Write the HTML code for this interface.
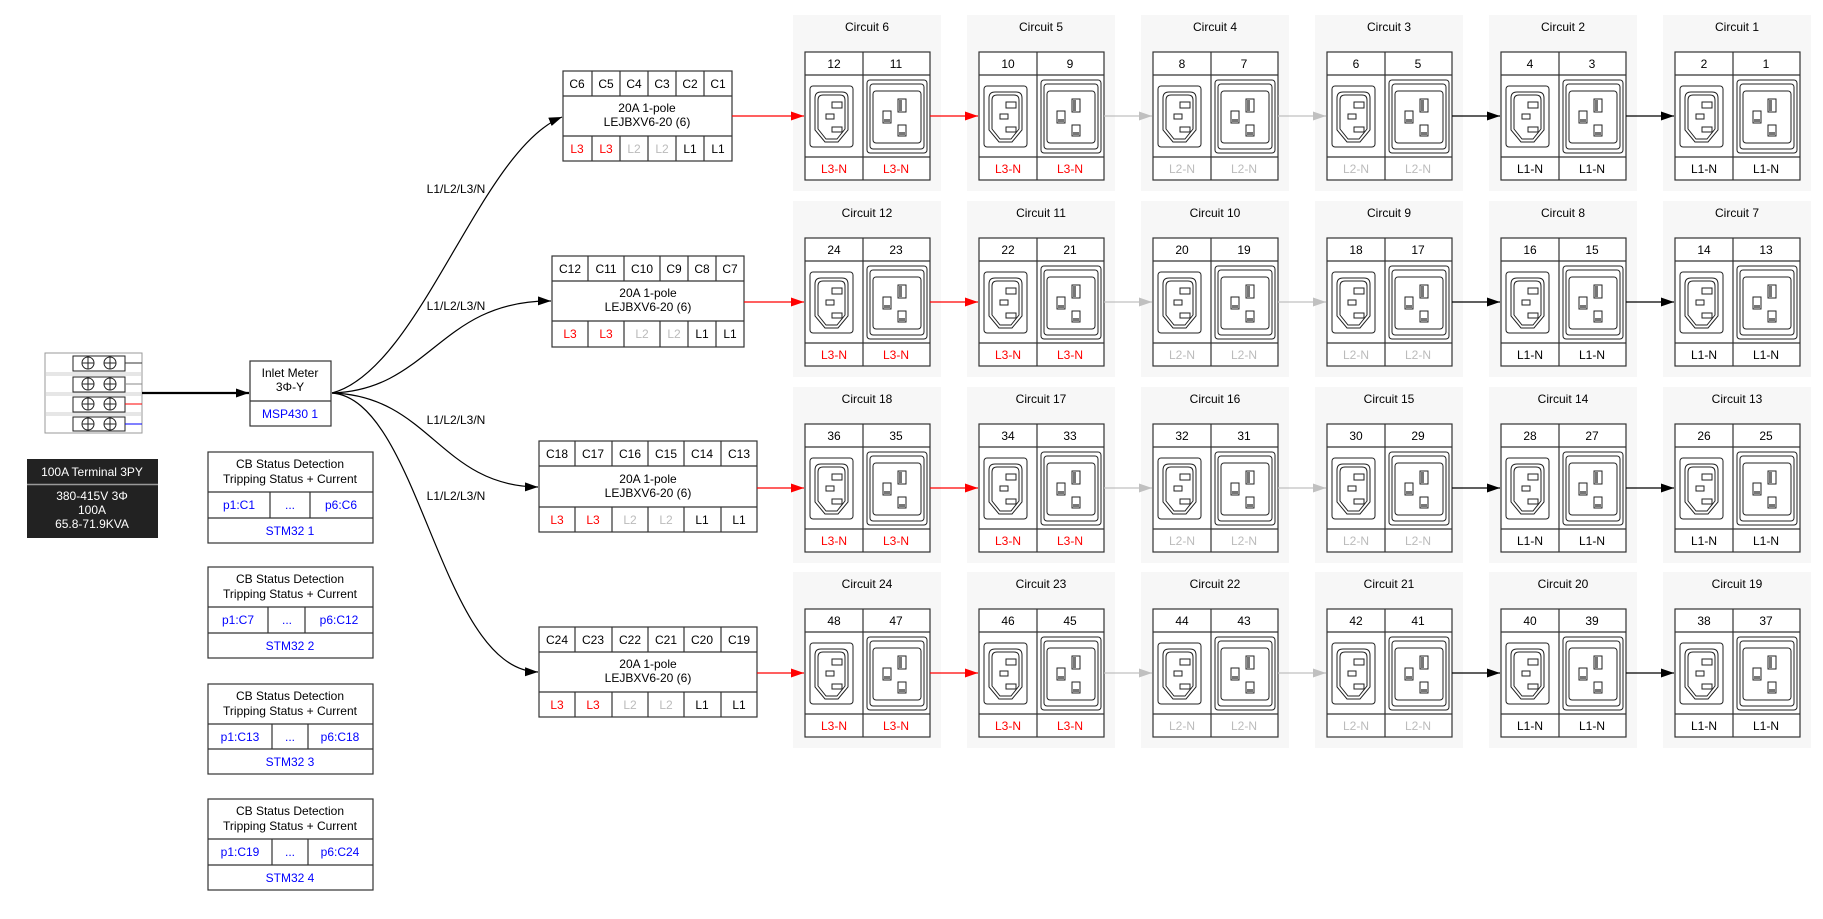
<!DOCTYPE html>
<html><head><meta charset="utf-8"><style>html,body{margin:0;padding:0;background:#fff}svg{display:block}text{font-family:"Liberation Sans",Arial,sans-serif;font-size:12px;fill:#000}</style></head><body>
<svg width="1823" height="919" viewBox="0 0 1823 919" xmlns="http://www.w3.org/2000/svg">
<defs>
<marker id="ak" markerWidth="14" markerHeight="10" refX="13" refY="4.5" orient="auto" markerUnits="userSpaceOnUse"><path d="M0,0 L13,4.5 L0,9z" fill="#000"/></marker>
<marker id="ar" markerWidth="14" markerHeight="10" refX="13" refY="4.5" orient="auto" markerUnits="userSpaceOnUse"><path d="M0,0 L13,4.5 L0,9z" fill="#f00"/></marker>
<marker id="ag" markerWidth="14" markerHeight="10" refX="13" refY="4.5" orient="auto" markerUnits="userSpaceOnUse"><path d="M0,0 L13,4.5 L0,9z" fill="#c0c0c0"/></marker>
<g id="clu">
<rect x="0" y="0" width="148" height="176" fill="#f7f7f7"/>
<rect x="12" y="37" width="125" height="128" fill="#fff" stroke="#333" stroke-width="1.2"/>
<path d="M12,60H137M12,142H137M70,37V165" stroke="#333" stroke-width="1.2" fill="none"/>
<rect x="17" y="71" width="43" height="61" rx="3" fill="none" stroke="#222"/>
<path d="M28,77H49Q55,77 55,83V115L45,127H32L22,115V83Q22,77 28,77Z" fill="none" stroke="#222"/>
<path d="M30,80H47Q52,80 52,85V114L44,124H33L25,114V85Q25,80 30,80Z" fill="none" stroke="#222"/>
<rect x="39" y="87" width="10" height="6" fill="none" stroke="#222"/>
<rect x="33" y="99" width="8" height="5" fill="none" stroke="#222"/>
<rect x="39" y="112" width="10" height="5" fill="none" stroke="#222"/>
<rect x="74" y="65" width="60" height="73" rx="3" fill="none" stroke="#222"/>
<rect x="77" y="69" width="54" height="65" rx="3" fill="none" stroke="#222"/>
<rect x="80" y="76" width="48" height="52" rx="3" fill="none" stroke="#222"/>
<rect x="105" y="84" width="8" height="13" fill="#fff" stroke="#222"/><rect x="106" y="85" width="3" height="11" fill="#777"/>
<rect x="105" y="110" width="8" height="11" fill="#fff" stroke="#222"/><rect x="106" y="117" width="6" height="3" fill="#777"/>
<rect x="90" y="96" width="8" height="12" fill="#fff" stroke="#222"/><rect x="91" y="104" width="6" height="3" fill="#777"/>
</g>
</defs>

<rect x="45" y="353" width="97" height="80" fill="#fff" stroke="#999"/>
<path d="M45,373H142M45,375H142M45,393H142M45,395H142M45,413H142M45,415H142" stroke="#ccc"/>
<g fill="#fff" stroke="#222">
<rect x="73" y="356" width="52" height="15"/><rect x="73" y="377" width="52" height="15"/><rect x="73" y="397" width="52" height="15"/><rect x="73" y="417" width="52" height="14"/>
<circle cx="88" cy="363" r="6"/><circle cx="110" cy="363" r="6"/><circle cx="88" cy="384" r="6"/><circle cx="110" cy="384" r="6"/>
<circle cx="88" cy="404" r="6"/><circle cx="110" cy="404" r="6"/><circle cx="88" cy="424" r="6"/><circle cx="110" cy="424" r="6"/>
</g>
<path d="M82,363H94M88,357V369M104,363H116M110,357V369M82,384H94M88,378V390M104,384H116M110,378V390M82,404H94M88,398V410M104,404H116M110,398V410M82,424H94M88,418V430M104,424H116M110,418V430" stroke="#222"/>
<path d="M125,363H142" stroke="#333"/><path d="M125,384H142" stroke="#888"/><path d="M125,404H142" stroke="#f00"/><path d="M125,424H142" stroke="#00f"/>
<path d="M142,393H249" stroke="#000" stroke-width="2.2" marker-end="url(#ak)"/>

<rect x="27" y="459" width="131" height="79" fill="#222"/>
<path d="M27,484.5H158" stroke="#999" stroke-width="1.5"/>
<text x="92" y="476" text-anchor="middle" style="fill:#fff">100A Terminal 3PY</text>
<text x="92" y="500" text-anchor="middle" style="fill:#fff">380-415V 3Φ</text>
<text x="92" y="514" text-anchor="middle" style="fill:#fff">100A</text>
<text x="92" y="528" text-anchor="middle" style="fill:#fff">65.8-71.9KVA</text>

<rect x="250" y="361" width="81" height="65" fill="#fff" stroke="#333" stroke-width="1.2"/>
<path d="M250,401H331" stroke="#333" stroke-width="1.2"/>
<text x="290" y="377" text-anchor="middle">Inlet Meter</text>
<text x="290" y="391" text-anchor="middle">3Φ-Y</text>
<text x="290" y="418" text-anchor="middle" style="fill:#00f">MSP430 1</text>

<g fill="#fff" stroke="#333" stroke-width="1.2">
<rect x="208" y="452" width="165" height="91"/><path d="M208,492H373M208,518H373M270,492V518M310,492V518"/>
<rect x="208" y="567" width="165" height="91"/><path d="M208,607H373M208,633H373M268,607V633M305,607V633"/>
<rect x="208" y="684" width="165" height="90"/><path d="M208,724H373M208,749H373M272,724V749M308,724V749"/>
<rect x="208" y="799" width="165" height="91"/><path d="M208,839H373M208,865H373M272,839V865M308,839V865"/>
</g>
<text x="290" y="468" text-anchor="middle">CB Status Detection</text><text x="290" y="483" text-anchor="middle">Tripping Status + Current</text>
<text x="239" y="509" text-anchor="middle" style="fill:#00f">p1:C1</text><text x="290" y="509" text-anchor="middle" style="fill:#00f">...</text><text x="341" y="509" text-anchor="middle" style="fill:#00f">p6:C6</text>
<text x="290" y="535" text-anchor="middle" style="fill:#00f">STM32 1</text>
<text x="290" y="583" text-anchor="middle">CB Status Detection</text><text x="290" y="598" text-anchor="middle">Tripping Status + Current</text>
<text x="238" y="624" text-anchor="middle" style="fill:#00f">p1:C7</text><text x="287" y="624" text-anchor="middle" style="fill:#00f">...</text><text x="339" y="624" text-anchor="middle" style="fill:#00f">p6:C12</text>
<text x="290" y="650" text-anchor="middle" style="fill:#00f">STM32 2</text>
<text x="290" y="700" text-anchor="middle">CB Status Detection</text><text x="290" y="715" text-anchor="middle">Tripping Status + Current</text>
<text x="240" y="741" text-anchor="middle" style="fill:#00f">p1:C13</text><text x="290" y="741" text-anchor="middle" style="fill:#00f">...</text><text x="340" y="741" text-anchor="middle" style="fill:#00f">p6:C18</text>
<text x="290" y="766" text-anchor="middle" style="fill:#00f">STM32 3</text>
<text x="290" y="815" text-anchor="middle">CB Status Detection</text><text x="290" y="830" text-anchor="middle">Tripping Status + Current</text>
<text x="240" y="856" text-anchor="middle" style="fill:#00f">p1:C19</text><text x="290" y="856" text-anchor="middle" style="fill:#00f">...</text><text x="340" y="856" text-anchor="middle" style="fill:#00f">p6:C24</text>
<text x="290" y="882" text-anchor="middle" style="fill:#00f">STM32 4</text>

<g fill="none" stroke="#000" stroke-width="1.2">
<path d="M332,393 C420,370 480,150 562,117" marker-end="url(#ak)"/>
<path d="M332,393 C430,390 440,300 551,301" marker-end="url(#ak)"/>
<path d="M332,393 C430,396 440,486 538,487" marker-end="url(#ak)"/>
<path d="M332,393 C420,400 440,670 538,672" marker-end="url(#ak)"/>
</g>
<text x="456" y="193" text-anchor="middle">L1/L2/L3/N</text>
<text x="456" y="310" text-anchor="middle">L1/L2/L3/N</text>
<text x="456" y="424" text-anchor="middle">L1/L2/L3/N</text>
<text x="456" y="500" text-anchor="middle">L1/L2/L3/N</text>

<g fill="#fff" stroke="#333" stroke-width="1.2">
<rect x="563" y="71" width="169" height="90"/><path d="M563,96H732M563,136H732M592,71V96M620,71V96M648,71V96M676,71V96M704,71V96M592,136V161M620,136V161M648,136V161M676,136V161M704,136V161"/>
<rect x="552" y="256" width="192" height="91"/><path d="M552,281H744M552,321H744M588,256V281M624,256V281M660,256V281M688,256V281M716,256V281M588,321V347M624,321V347M660,321V347M688,321V347M716,321V347"/>
<rect x="539" y="441" width="218" height="91"/><path d="M539,466H757M539,507H757M575,441V466M612,441V466M648,441V466M684,441V466M721,441V466M575,507V532M612,507V532M648,507V532M684,507V532M721,507V532"/>
<rect x="539" y="627" width="218" height="90"/><path d="M539,652H757M539,692H757M575,627V652M612,627V652M648,627V652M684,627V652M721,627V652M575,692V717M612,692V717M648,692V717M684,692V717M721,692V717"/>
</g>
<g text-anchor="middle">
<text x="577" y="88">C6</text><text x="606" y="88">C5</text><text x="634" y="88">C4</text><text x="662" y="88">C3</text><text x="690" y="88">C2</text><text x="718" y="88">C1</text>
<text x="647" y="112">20A 1-pole</text><text x="647" y="126">LEJBXV6-20 (6)</text>
<text x="577" y="153" style="fill:#f00">L3</text><text x="606" y="153" style="fill:#f00">L3</text><text x="634" y="153" style="fill:#bbb">L2</text><text x="662" y="153" style="fill:#bbb">L2</text><text x="690" y="153">L1</text><text x="718" y="153">L1</text>

<text x="570" y="273">C12</text><text x="606" y="273">C11</text><text x="642" y="273">C10</text><text x="674" y="273">C9</text><text x="702" y="273">C8</text><text x="730" y="273">C7</text>
<text x="648" y="297">20A 1-pole</text><text x="648" y="311">LEJBXV6-20 (6)</text>
<text x="570" y="338" style="fill:#f00">L3</text><text x="606" y="338" style="fill:#f00">L3</text><text x="642" y="338" style="fill:#bbb">L2</text><text x="674" y="338" style="fill:#bbb">L2</text><text x="702" y="338">L1</text><text x="730" y="338">L1</text>

<text x="557" y="458">C18</text><text x="593" y="458">C17</text><text x="630" y="458">C16</text><text x="666" y="458">C15</text><text x="702" y="458">C14</text><text x="739" y="458">C13</text>
<text x="648" y="483">20A 1-pole</text><text x="648" y="497">LEJBXV6-20 (6)</text>
<text x="557" y="524" style="fill:#f00">L3</text><text x="593" y="524" style="fill:#f00">L3</text><text x="630" y="524" style="fill:#bbb">L2</text><text x="666" y="524" style="fill:#bbb">L2</text><text x="702" y="524">L1</text><text x="739" y="524">L1</text>

<text x="557" y="644">C24</text><text x="593" y="644">C23</text><text x="630" y="644">C22</text><text x="666" y="644">C21</text><text x="702" y="644">C20</text><text x="739" y="644">C19</text>
<text x="648" y="668">20A 1-pole</text><text x="648" y="682">LEJBXV6-20 (6)</text>
<text x="557" y="709" style="fill:#f00">L3</text><text x="593" y="709" style="fill:#f00">L3</text><text x="630" y="709" style="fill:#bbb">L2</text><text x="666" y="709" style="fill:#bbb">L2</text><text x="702" y="709">L1</text><text x="739" y="709">L1</text>
</g>

<use href="#clu" x="793" y="15"/><use href="#clu" x="967" y="15"/><use href="#clu" x="1141" y="15"/><use href="#clu" x="1315" y="15"/><use href="#clu" x="1489" y="15"/><use href="#clu" x="1663" y="15"/>
<use href="#clu" x="793" y="201"/><use href="#clu" x="967" y="201"/><use href="#clu" x="1141" y="201"/><use href="#clu" x="1315" y="201"/><use href="#clu" x="1489" y="201"/><use href="#clu" x="1663" y="201"/>
<use href="#clu" x="793" y="387"/><use href="#clu" x="967" y="387"/><use href="#clu" x="1141" y="387"/><use href="#clu" x="1315" y="387"/><use href="#clu" x="1489" y="387"/><use href="#clu" x="1663" y="387"/>
<use href="#clu" x="793" y="572"/><use href="#clu" x="967" y="572"/><use href="#clu" x="1141" y="572"/><use href="#clu" x="1315" y="572"/><use href="#clu" x="1489" y="572"/><use href="#clu" x="1663" y="572"/>

<g fill="none" stroke-width="1.2">
<path d="M732,116H804" stroke="#f00" marker-end="url(#ar)"/><path d="M930,116H978" stroke="#f00" marker-end="url(#ar)"/><path d="M1104,116H1152" stroke="#c0c0c0" marker-end="url(#ag)"/><path d="M1278,116H1326" stroke="#c0c0c0" marker-end="url(#ag)"/><path d="M1452,116H1500" stroke="#000" marker-end="url(#ak)"/><path d="M1626,116H1674" stroke="#000" marker-end="url(#ak)"/>
<path d="M744,302H804" stroke="#f00" marker-end="url(#ar)"/><path d="M930,302H978" stroke="#f00" marker-end="url(#ar)"/><path d="M1104,302H1152" stroke="#c0c0c0" marker-end="url(#ag)"/><path d="M1278,302H1326" stroke="#c0c0c0" marker-end="url(#ag)"/><path d="M1452,302H1500" stroke="#000" marker-end="url(#ak)"/><path d="M1626,302H1674" stroke="#000" marker-end="url(#ak)"/>
<path d="M757,488H804" stroke="#f00" marker-end="url(#ar)"/><path d="M930,488H978" stroke="#f00" marker-end="url(#ar)"/><path d="M1104,488H1152" stroke="#c0c0c0" marker-end="url(#ag)"/><path d="M1278,488H1326" stroke="#c0c0c0" marker-end="url(#ag)"/><path d="M1452,488H1500" stroke="#000" marker-end="url(#ak)"/><path d="M1626,488H1674" stroke="#000" marker-end="url(#ak)"/>
<path d="M757,673H804" stroke="#f00" marker-end="url(#ar)"/><path d="M930,673H978" stroke="#f00" marker-end="url(#ar)"/><path d="M1104,673H1152" stroke="#c0c0c0" marker-end="url(#ag)"/><path d="M1278,673H1326" stroke="#c0c0c0" marker-end="url(#ag)"/><path d="M1452,673H1500" stroke="#000" marker-end="url(#ak)"/><path d="M1626,673H1674" stroke="#000" marker-end="url(#ak)"/>
</g>

<g text-anchor="middle">
<text x="867" y="31">Circuit 6</text><text x="834" y="68">12</text><text x="896" y="68">11</text><text x="834" y="173" style="fill:#f00">L3-N</text><text x="896" y="173" style="fill:#f00">L3-N</text>
<text x="1041" y="31">Circuit 5</text><text x="1008" y="68">10</text><text x="1070" y="68">9</text><text x="1008" y="173" style="fill:#f00">L3-N</text><text x="1070" y="173" style="fill:#f00">L3-N</text>
<text x="1215" y="31">Circuit 4</text><text x="1182" y="68">8</text><text x="1244" y="68">7</text><text x="1182" y="173" style="fill:#bbb">L2-N</text><text x="1244" y="173" style="fill:#bbb">L2-N</text>
<text x="1389" y="31">Circuit 3</text><text x="1356" y="68">6</text><text x="1418" y="68">5</text><text x="1356" y="173" style="fill:#bbb">L2-N</text><text x="1418" y="173" style="fill:#bbb">L2-N</text>
<text x="1563" y="31">Circuit 2</text><text x="1530" y="68">4</text><text x="1592" y="68">3</text><text x="1530" y="173">L1-N</text><text x="1592" y="173">L1-N</text>
<text x="1737" y="31">Circuit 1</text><text x="1704" y="68">2</text><text x="1766" y="68">1</text><text x="1704" y="173">L1-N</text><text x="1766" y="173">L1-N</text>
<text x="867" y="217">Circuit 12</text><text x="834" y="254">24</text><text x="896" y="254">23</text><text x="834" y="359" style="fill:#f00">L3-N</text><text x="896" y="359" style="fill:#f00">L3-N</text>
<text x="1041" y="217">Circuit 11</text><text x="1008" y="254">22</text><text x="1070" y="254">21</text><text x="1008" y="359" style="fill:#f00">L3-N</text><text x="1070" y="359" style="fill:#f00">L3-N</text>
<text x="1215" y="217">Circuit 10</text><text x="1182" y="254">20</text><text x="1244" y="254">19</text><text x="1182" y="359" style="fill:#bbb">L2-N</text><text x="1244" y="359" style="fill:#bbb">L2-N</text>
<text x="1389" y="217">Circuit 9</text><text x="1356" y="254">18</text><text x="1418" y="254">17</text><text x="1356" y="359" style="fill:#bbb">L2-N</text><text x="1418" y="359" style="fill:#bbb">L2-N</text>
<text x="1563" y="217">Circuit 8</text><text x="1530" y="254">16</text><text x="1592" y="254">15</text><text x="1530" y="359">L1-N</text><text x="1592" y="359">L1-N</text>
<text x="1737" y="217">Circuit 7</text><text x="1704" y="254">14</text><text x="1766" y="254">13</text><text x="1704" y="359">L1-N</text><text x="1766" y="359">L1-N</text>
<text x="867" y="403">Circuit 18</text><text x="834" y="440">36</text><text x="896" y="440">35</text><text x="834" y="545" style="fill:#f00">L3-N</text><text x="896" y="545" style="fill:#f00">L3-N</text>
<text x="1041" y="403">Circuit 17</text><text x="1008" y="440">34</text><text x="1070" y="440">33</text><text x="1008" y="545" style="fill:#f00">L3-N</text><text x="1070" y="545" style="fill:#f00">L3-N</text>
<text x="1215" y="403">Circuit 16</text><text x="1182" y="440">32</text><text x="1244" y="440">31</text><text x="1182" y="545" style="fill:#bbb">L2-N</text><text x="1244" y="545" style="fill:#bbb">L2-N</text>
<text x="1389" y="403">Circuit 15</text><text x="1356" y="440">30</text><text x="1418" y="440">29</text><text x="1356" y="545" style="fill:#bbb">L2-N</text><text x="1418" y="545" style="fill:#bbb">L2-N</text>
<text x="1563" y="403">Circuit 14</text><text x="1530" y="440">28</text><text x="1592" y="440">27</text><text x="1530" y="545">L1-N</text><text x="1592" y="545">L1-N</text>
<text x="1737" y="403">Circuit 13</text><text x="1704" y="440">26</text><text x="1766" y="440">25</text><text x="1704" y="545">L1-N</text><text x="1766" y="545">L1-N</text>
<text x="867" y="588">Circuit 24</text><text x="834" y="625">48</text><text x="896" y="625">47</text><text x="834" y="730" style="fill:#f00">L3-N</text><text x="896" y="730" style="fill:#f00">L3-N</text>
<text x="1041" y="588">Circuit 23</text><text x="1008" y="625">46</text><text x="1070" y="625">45</text><text x="1008" y="730" style="fill:#f00">L3-N</text><text x="1070" y="730" style="fill:#f00">L3-N</text>
<text x="1215" y="588">Circuit 22</text><text x="1182" y="625">44</text><text x="1244" y="625">43</text><text x="1182" y="730" style="fill:#bbb">L2-N</text><text x="1244" y="730" style="fill:#bbb">L2-N</text>
<text x="1389" y="588">Circuit 21</text><text x="1356" y="625">42</text><text x="1418" y="625">41</text><text x="1356" y="730" style="fill:#bbb">L2-N</text><text x="1418" y="730" style="fill:#bbb">L2-N</text>
<text x="1563" y="588">Circuit 20</text><text x="1530" y="625">40</text><text x="1592" y="625">39</text><text x="1530" y="730">L1-N</text><text x="1592" y="730">L1-N</text>
<text x="1737" y="588">Circuit 19</text><text x="1704" y="625">38</text><text x="1766" y="625">37</text><text x="1704" y="730">L1-N</text><text x="1766" y="730">L1-N</text>
</g>
</svg>
</body></html>
